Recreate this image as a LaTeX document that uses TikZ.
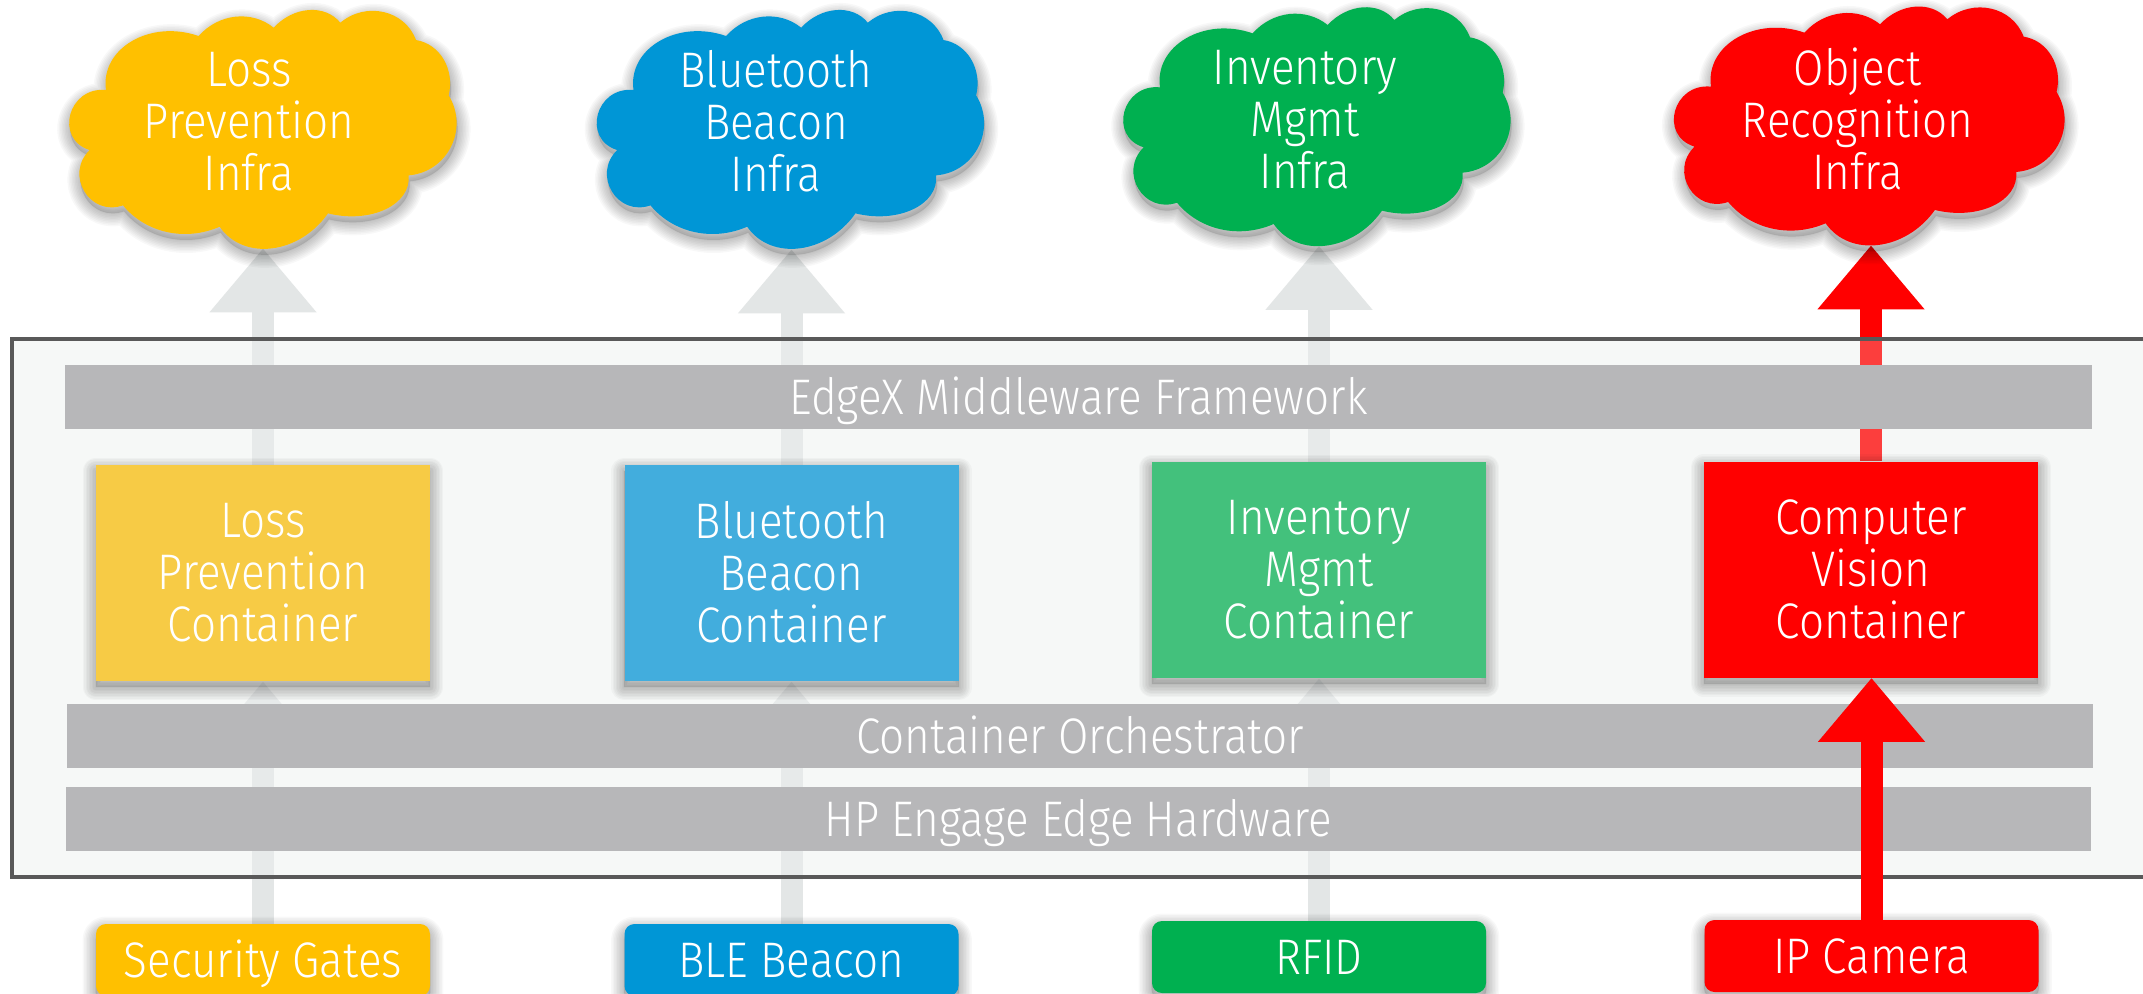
\documentclass[tikz,border=0pt]{standalone}
\usepackage{fontspec}
\setmainfont[FakeStretch=0.88]{Fira Sans Light}
\usetikzlibrary{arrows.meta}
\definecolor{cyellow}{HTML}{FFC000}
\definecolor{cblue}{HTML}{0096D6}
\definecolor{cgreen}{HTML}{00B050}
\definecolor{cred}{HTML}{FF0000}
\definecolor{lyellow}{HTML}{F7CB45}
\definecolor{lblue}{HTML}{42ADDD}
\definecolor{lgreen}{HTML}{43C17C}
\definecolor{arrowgrey}{HTML}{E3E6E6}
\definecolor{framefill}{HTML}{F6F8F7}
\definecolor{frameline}{HTML}{595959}
\definecolor{barfill}{HTML}{B7B7B9}
\pgfdeclarelayer{framelay}\pgfdeclarelayer{arrowlay}\pgfdeclarelayer{veillay}
\pgfdeclarelayer{shadowlay}\pgfdeclarelayer{shapelay}\pgfdeclarelayer{toplay}
\pgfsetlayers{framelay,arrowlay,veillay,shadowlay,shapelay,main,toplay}
% cloud outline, built once from arcs given as start / arc middle / end
\def\cloudpath{(177,262)}
\newcommand\addlobe[6]{%
  \pgfmathsetmacro\ldx{#3-(#1+#5)/2}%
  \pgfmathsetmacro\ldy{#4-(#2+#6)/2}%
  \pgfmathsetmacro\lcx{#5-#1}%
  \pgfmathsetmacro\lcy{#6-#2}%
  \pgfmathsetmacro\ltsq{4*((\ldx/100)^2+(\ldy/100)^2)/((\lcx/100)^2+(\lcy/100)^2)}%
  \pgfmathsetmacro\lkk{(1-\ltsq)/3}%
  \pgfmathsetmacro\lax{#1+4/3*\ldx+\lkk*\lcx}%
  \pgfmathsetmacro\lay{#2+4/3*\ldy+\lkk*\lcy}%
  \pgfmathsetmacro\lbx{#5+4/3*\ldx-\lkk*\lcx}%
  \pgfmathsetmacro\lby{#6+4/3*\ldy-\lkk*\lcy}%
  \xdef\cloudpath{\cloudpath .. controls (\lax,\lay) and (\lbx,\lby) .. (#5,#6)}}
\addlobe{177}{262}{255}{115}{455}{100}
\addlobe{455}{100}{565}{42}{680}{75}
\addlobe{680}{75}{785}{22}{880}{60}
\addlobe{880}{60}{1010}{28}{1107}{112}
\addlobe{1107}{112}{1190}{170}{1205}{278}
\addlobe{1205}{278}{1212}{432}{1085}{518}
\addlobe{1085}{518}{1015}{620}{843}{632}
\addlobe{843}{632}{675}{737}{518}{672}
\addlobe{518}{672}{360}{688}{228}{608}
\addlobe{228}{608}{112}{566}{128}{442}
\addlobe{128}{442}{70}{335}{177}{262}
\newcommand\capline[1]{\rule{0pt}{17.3pt}\smash{#1}}
\tikzset{
  softlayer/.style={draw=black,opacity=.028,line join=round},
  softcore/.style={fill=black,opacity=.12},
  label/.style={text=white,align=center,font=\fontsize{25}{26}\selectfont,inner sep=0pt},
  oneline/.style={text height=17pt,text depth=0pt},
  cloudlabel/.style={label,minimum width=300pt},
  container/.style={label,minimum width=167pt,minimum height=108pt},
  source/.style={label,oneline,minimum width=167pt,minimum height=36pt,rounded corners=5pt},
  layerbar/.style={label,oneline,fill=barfill,minimum height=32pt},
  flowgrey/.style={draw=arrowgrey,line width=11pt,-{Triangle[width=51.5pt,length=32pt,fill=arrowgrey]}},
  flowred/.style={draw=cred,line width=11pt,-{Triangle[width=51.5pt,length=32pt,fill=cred]}},
}
\newcommand\cloudshape[5]{% x y xscale yscale fill
  \begin{pgfonlayer}{shadowlay}
    \begin{scope}[shift={(#1+1,#2+6)},xscale=#3/3,yscale=#4/3]
      \path[softcore] \cloudpath -- cycle;
      \foreach \w in {26,23,20,17,14,11,8,5,2}{%
        \path[softlayer,line width=\w*0.5pt] \cloudpath -- cycle;}
    \end{scope}
  \end{pgfonlayer}
  \begin{pgfonlayer}{shapelay}
    \begin{scope}[shift={(#1,#2)},xscale=#3/3,yscale=#4/3]
      \fill[#5] \cloudpath -- cycle;
    \end{scope}
  \end{pgfonlayer}}
\newcommand\boxshadow[2]{%
  \begin{pgfonlayer}{shadowlay}
    \path[softcore,rounded corners=#2]
      ([shift={(0,6)}]#1.south west) rectangle ([shift={(0,6)}]#1.north east);
    \foreach \w in {26,23,20,17,14,11,8,5,2}{%
      \path[softlayer,line width=\w*0.5pt,rounded corners=#2]
        ([shift={(0,6)}]#1.south west) rectangle ([shift={(0,6)}]#1.north east);}
  \end{pgfonlayer}}
\begin{document}
\begin{tikzpicture}[x=0.5pt,y=-0.5pt]
\useasboundingbox (0,0) rectangle (2143,993);
\clip (0,0) rectangle (2143,993);
\coordinate (fnw) at (12,339);
\coordinate (fse) at (2175,877);
% clouds
\cloudshape{47}{2.7}{1}{1}{cyellow}
\cloudshape{574.5}{2.7}{1}{1}{cblue}
\cloudshape{1101}{0}{1}{1}{cgreen}
\cloudshape{1651.5}{-0.7}{1.0085}{1}{cred}
\node[cloudlabel,minimum height=252pt/2] (cloud1) at (249,122) {Loss\\Prevention\\Infra};
\node[cloudlabel,minimum height=254pt/2] (cloud2) at (776,122) {\capline{Bluetooth}\\Beacon\\Infra};
\node[cloudlabel,minimum height=251pt/2] (cloud3) at (1305,120) {Inventory\\Mgmt\\Infra};
\node[cloudlabel,minimum height=250pt/2] (cloud4) at (1857.5,120) {\capline{Object}\\Recognition\\Infra};
% containers
\node[container,fill=lyellow] (box1) at (263,573) {Loss\\Prevention\\Container};
\node[container,fill=lblue] (box2) at (791.5,573) {\capline{Bluetooth}\\Beacon\\Container};
\node[container,fill=lgreen] (box3) at (1319,570) {Inventory\\Mgmt\\Container};
\node[container,fill=cred] (box4) at (1871,569.5) {Computer\\Vision\\Container};
\boxshadow{box1}{0pt}\boxshadow{box2}{0pt}\boxshadow{box3}{0pt}\boxshadow{box4}{0pt}
% sources
\node[source,fill=cyellow] (src1) at (263,960) {Security Gates};
\node[source,fill=cblue] (src2) at (791.5,960) {BLE Beacon};
\node[source,fill=cgreen] (src3) at (1319,957) {RFID};
\node[source,fill=cred] (src4) at (1871.5,956) {IP Camera};
\boxshadow{src1}{5pt}\boxshadow{src2}{5pt}\boxshadow{src3}{5pt}\boxshadow{src4}{5pt}
% platform layers
\node[layerbar,minimum width=1013.5pt] (edgex) at (1078.5,397) {EdgeX Middleware Framework};
\node[layerbar,minimum width=1013pt] (orch) at (1080,736) {Container Orchestrator};
\node[layerbar,minimum width=1012.5pt] (hw) at (1078.5,819) {HP Engage Edge Hardware};
% frame
\begin{pgfonlayer}{framelay}
  \fill[white] (0,0) rectangle (2143,993);
  \fill[framefill] (fnw) rectangle (fse);
\end{pgfonlayer}
\begin{pgfonlayer}{veillay}
  \fill[framefill,opacity=.25] (fnw) rectangle (fse);
  \draw[frameline,line width=2pt] (fnw) rectangle (fse);
\end{pgfonlayer}
% connectors
\begin{pgfonlayer}{arrowlay}
  \draw[flowgrey] (box1.north) -- (box1.north |- cloud1.south);
  \draw[flowgrey] (box2.north) -- (box2.north |- cloud2.south);
  \draw[flowgrey] (box3.north) -- (box3.north |- cloud3.south);
  \draw[flowred] (box4.north) -- (box4.north |- cloud4.south);
  \draw[flowgrey] (src1.north) -- (box1.south);
  \draw[flowgrey] (src2.north) -- (box2.south);
  \draw[flowgrey] (src3.north) -- (box3.south);
\end{pgfonlayer}
\begin{pgfonlayer}{toplay}
  \draw[flowred] (src4.north) -- (src4.north |- box4.south);
\end{pgfonlayer}
\end{tikzpicture}
\end{document}
